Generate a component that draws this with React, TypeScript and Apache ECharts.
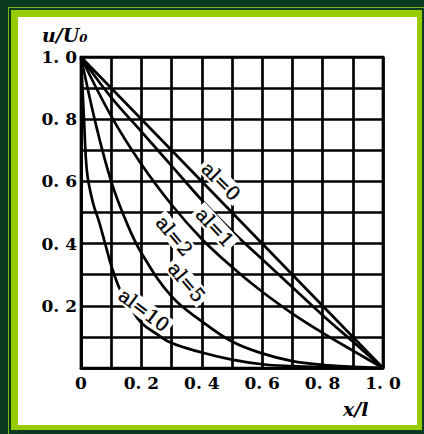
import React, { useEffect, useRef } from "react";
import * as echarts from "echarts";

// Tick labels shown on the axes (every other grid line carries a label)
const X_LABELS = ["0", "0. 2", "0. 4", "0. 6", "0. 8", "1. 0"];
const Y_LABELS = ["", "0. 2", "0. 4", "0. 6", "0. 8", "1. 0"];

// Voltage ratio u/U0 along the line x/l for several values of al
const AL0_X = [0, 1];
const AL0_Y = [1, 0];

const AL1_X = [0, 0.1, 0.2, 0.3, 0.4, 0.5, 0.6, 0.7, 0.8, 0.9, 1];
const AL1_Y = [1, 0.87, 0.76, 0.65, 0.54, 0.44, 0.35, 0.26, 0.17, 0.085, 0];

const AL2_X = [0, 0.1, 0.2, 0.3, 0.4, 0.5, 0.6, 0.7, 0.8, 0.9, 1];
const AL2_Y = [1, 0.81, 0.655, 0.525, 0.415, 0.325, 0.245, 0.175, 0.113, 0.056, 0];

const AL5_X = [0, 0.05, 0.1, 0.15, 0.2, 0.3, 0.4, 0.5, 0.6, 0.7, 0.8, 0.9, 1];
const AL5_Y = [1, 0.78, 0.6, 0.47, 0.37, 0.23, 0.15, 0.085, 0.047, 0.022, 0.01, 0.004, 0];

const AL10_X = [0, 0.005, 0.01, 0.02, 0.04, 0.06, 0.08, 0.1, 0.13, 0.16, 0.2, 0.25, 0.3, 0.4, 0.5, 0.6, 0.7, 0.8, 0.9, 1];
const AL10_Y = [1, 0.9, 0.8, 0.63, 0.53, 0.47, 0.4, 0.33, 0.25, 0.2, 0.145, 0.11, 0.08, 0.05, 0.027, 0.012, 0.006, 0.003, 0.001, 0];

// Curve captions: text, anchor in data coordinates, slant in degrees
const CAPTIONS = [
  { text: "al=0", x: 0.464, y: 0.601, angle: 45 },
  { text: "al=1", x: 0.444, y: 0.453, angle: 47 },
  { text: "al=2", x: 0.31, y: 0.425, angle: 50 },
  { text: "al=5", x: 0.351, y: 0.277, angle: 50 },
  { text: "al=10", x: 0.209, y: 0.187, angle: 37 },
];

const SERIES = [
  { name: "al=0", xs: AL0_X, ys: AL0_Y },
  { name: "al=1", xs: AL1_X, ys: AL1_Y },
  { name: "al=2", xs: AL2_X, ys: AL2_Y },
  { name: "al=5", xs: AL5_X, ys: AL5_Y },
  { name: "al=10", xs: AL10_X, ys: AL10_Y },
];

const SERIF = "'DejaVu Serif', 'Liberation Serif', serif";
const INK = "#000";
const LINE_W = 2.7;

const labelFor = (labels: string[]) => (v: number) => {
  const k = Math.round(v * 10);
  if (k % 2 !== 0) return "";
  return labels[k / 2] ?? "";
};

export default function App() {
  const ref = useRef<HTMLDivElement>(null);

  useEffect(() => {
    if (!ref.current) return;
    const chart = echarts.init(ref.current, undefined, { renderer: "svg" });

    const axisCommon = {
      type: "value" as const,
      min: 0,
      max: 1,
      interval: 0.1,
      axisLine: { show: true, lineStyle: { color: INK, width: LINE_W } },
      axisTick: { show: false },
      splitLine: { show: true, lineStyle: { color: INK, width: LINE_W } },
    };

    chart.setOption({
      animation: false,
      grid: {
        left: 81,
        top: 57,
        width: 302,
        height: 311,
        show: true,
        borderColor: INK,
        borderWidth: LINE_W,
        containLabel: false,
      },
      xAxis: {
        ...axisCommon,
        axisLabel: {
          formatter: labelFor(X_LABELS),
          color: INK,
          fontFamily: SERIF,
          fontSize: 17,
          fontWeight: "bold",
          margin: 6,
          showMaxLabel: true,
          showMinLabel: true,
        },
      },
      yAxis: {
        ...axisCommon,
        axisLabel: {
          formatter: labelFor(Y_LABELS),
          color: INK,
          fontFamily: SERIF,
          fontSize: 17,
          fontWeight: "bold",
          margin: 4,
          showMaxLabel: true,
        },
      },
      series: SERIES.map((s) => ({
        name: s.name,
        type: "line",
        data: s.xs.map((x, i) => [x, s.ys[i]]),
        smooth: 0.4,
        showSymbol: false,
        lineStyle: { color: INK, width: LINE_W },
        z: 3,
      })),
    });

    const captions = CAPTIONS.map((c) => {
      const [px, py] = chart.convertToPixel({ gridIndex: 0 }, [c.x, c.y]) as number[];
      return {
        type: "text",
        x: px,
        y: py,
        rotation: (-c.angle * Math.PI) / 180,
        z: 10,
        style: {
          text: c.text,
          fill: INK,
          font: `19px ${SERIF}`,
          align: "center",
          verticalAlign: "middle",
          backgroundColor: "#fff",
          padding: [0, 3],
          stroke: INK,
          lineWidth: 0.4,
        },
      };
    });

    chart.setOption({
      graphic: [
        ...captions,
        {
          type: "text",
          left: 42,
          top: 25,
          z: 10,
          style: {
            text: "u/U₀",
            fill: INK,
            font: `italic bold 19px ${SERIF}`,
          },
        },
        {
          type: "text",
          left: 343,
          top: 399,
          z: 10,
          style: {
            text: "x/l",
            fill: INK,
            font: `italic bold 19px ${SERIF}`,
          },
        },
      ],
    });

    return () => chart.dispose();
  }, []);

  const box = (l: number, t: number, r: number, b: number, bg: string): React.CSSProperties => ({
    position: "absolute",
    left: l,
    top: t,
    width: r - l,
    height: b - t,
    background: bg,
  });

  return (
    <div style={{ position: "fixed", left: 0, top: 0, width: 424, height: 434, background: "#0a3b22", overflow: "hidden" }}>
      <div style={{ ...box(7.5, 7, 440, 450, "transparent"), border: "1px solid #7fb21a", boxSizing: "border-box" }} />
      <div style={box(10.5, 10, 421.5, 430, "#99cc00")} />
      <div style={box(18, 17, 417, 425, "#ffffff")} />
      <div ref={ref} style={{ position: "absolute", left: 0, top: 0, width: 424, height: 434 }} />
    </div>
  );
}
